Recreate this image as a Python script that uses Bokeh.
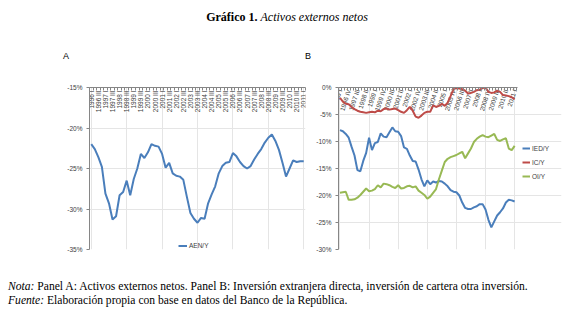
import math
from bokeh.plotting import figure
from bokeh.models import (Div, Legend, LegendItem, LinearAxis, FixedTicker,
                          PrintfTickFormatter, Range1d, ColumnDataSource,
                          CustomJSTickFormatter)
from bokeh.layouts import column, row
from bokeh.embed import file_html
from bokeh.resources import INLINE
from bokeh.core.properties import value

# ---------------- data ----------------
ROMAN = ["I", "II", "III", "IV"]
quarters = [f"{y} {r}" for y in range(1996, 2012) for r in ROMAN][:61]  # 1996 I .. 2011 I

aen_y = [-22.0, -22.6, -23.6, -24.8, -28.1, -29.3, -31.3, -30.9, -28.3, -27.9,
         -26.5, -28.3, -26.3, -25.0, -23.2, -23.7, -23.0, -22.0, -22.2, -22.3,
         -23.2, -24.9, -24.3, -25.6, -25.9, -26.0, -26.4, -28.5, -30.5, -31.2,
         -31.7, -31.1, -31.2, -29.3, -28.2, -27.2, -25.6, -24.7, -24.3, -24.2,
         -23.1, -23.5, -24.2, -24.7, -25.0, -24.7, -23.9, -23.2, -22.6, -21.8,
         -21.2, -20.8, -21.6, -22.7, -24.3, -26.0, -25.0, -24.0, -24.2, -24.1,
         -24.1]

ied_y = [-7.9, -8.1, -8.6, -9.3, -11.0, -12.6, -15.3, -15.5, -13.6, -12.1,
         -9.3, -11.6, -10.3, -10.1, -8.5, -9.1, -9.2, -8.3, -7.4, -8.1,
         -8.2, -9.0, -11.1, -11.35, -12.6, -13.6, -13.7, -15.2, -17.0, -18.3,
         -17.2, -17.9, -17.4, -17.6, -17.3, -17.4, -17.8, -18.3, -19.0, -19.3,
         -19.4, -20.0, -21.3, -22.3, -22.5, -22.5, -22.2, -22.0, -21.6, -21.6,
         -22.6, -24.5, -25.9, -24.8, -23.7, -23.1, -22.4, -21.3, -20.8, -20.9,
         -21.1]

ic_y = [-1.9, -2.6, -3.0, -3.1, -3.6, -4.0, -4.3, -4.5, -4.6, -4.7,
        -4.6, -4.5, -4.6, -4.3, -4.4, -4.0, -3.9, -4.1, -4.0, -3.9,
        -4.2, -4.5, -4.7, -4.2, -3.6, -4.3, -5.4, -5.6, -5.2, -4.7,
        -4.5, -4.5, -3.3, -3.6, -3.4, -3.0, -3.4, -2.8, -1.6, -0.3,
        -0.1, -0.2, -0.3, -0.6, -1.1, -1.0, -0.8, -0.5, -0.4, -0.1,
        0.0, -0.8, -1.0, -0.9, -0.6, -0.8, -1.4, -1.5, -1.6, -1.8,
        -2.2]

oi_y = [-19.5, -19.4, -19.3, -20.8, -20.8, -20.7, -20.4, -19.9, -19.3, -18.7,
        -19.2, -19.1, -18.8, -18.1, -18.5, -17.8, -17.9, -18.1, -18.4, -18.6,
        -18.1, -18.7, -18.6, -18.3, -18.2, -18.5, -18.3, -19.1, -19.5, -19.9,
        -20.6, -20.2, -19.5, -18.8, -17.0, -15.4, -13.8, -13.2, -12.9, -12.7,
        -12.5, -12.2, -11.9, -13.1, -12.2, -11.3, -10.1, -9.5, -9.1, -8.8,
        -9.1, -9.2, -8.9, -8.6, -9.7, -9.9, -9.6, -9.4, -11.3, -11.6,
        -10.8]

ticks_a = [-35, -30, -25, -20, -15]
ticks_b = [-30, -25, -20, -15, -10, -5, 0]
label_step_a = 2
label_step_b = 3

idx = list(range(len(quarters)))

# ---------------- styles ----------------
AXIS_COLOR = "#868686"
TEXT_COLOR = "#404040"
SANS = "Liberation Sans"
BLUE = "#4A7EBB"
RED = "#BE4B48"
GREEN = "#98B954"


def base_fig(width, height, xr, yr, mbl, mbr, mbt, mbb, yticks, xbounds):
    p = figure(width=width, height=height, x_range=xr, y_range=yr,
               output_backend="svg", toolbar_location=None,
               x_axis_location=None, y_axis_location=None,
               min_border_left=mbl, min_border_right=mbr,
               min_border_top=mbt, min_border_bottom=mbb)
    p.outline_line_color = None
    p.background_fill_color = "white"
    p.border_fill_color = "white"
    yaxis = LinearAxis(ticker=FixedTicker(ticks=yticks),
                       formatter=PrintfTickFormatter(format="%d%%"),
                       axis_line_color=AXIS_COLOR, major_tick_line_color=AXIS_COLOR,
                       major_tick_out=3, major_tick_in=0, minor_tick_line_color=None,
                       major_label_text_font_size="6.5px",
                       major_label_text_font=SANS,
                       major_label_text_color=TEXT_COLOR,
                       major_label_standoff=4)
    p.add_layout(yaxis, "left")
    n = len(quarters)
    xaxis = LinearAxis(ticker=FixedTicker(ticks=[i - 0.5 for i in range(n + 1)]),
                       formatter=CustomJSTickFormatter(code="return ''"),
                       axis_line_color=AXIS_COLOR, major_tick_line_color=AXIS_COLOR,
                       major_tick_out=0, major_tick_in=3, minor_tick_line_color=None,
                       major_label_text_font_size="1px", major_label_standoff=0,
                       bounds=xbounds)
    p.add_layout(xaxis, "above")
    return p


# ---------------- Panel A ----------------
pA = base_fig(308, 212, Range1d(-0.5, 60.5), Range1d(-35, -15),
              89, 3, 22, 26, ticks_a, (-0.5, 60.5))
labA = ColumnDataSource(dict(x=idx[::label_step_a],
                             y=[ticks_a[-1]] * len(idx[::label_step_a]),
                             text=quarters[::label_step_a]))
pA.text(x="x", y="y", text="text", source=labA, angle=math.pi / 2,
        text_align="right", text_baseline="middle", y_offset=3,
        text_font=value(SANS), text_font_size="6.5px", text_color=TEXT_COLOR)
rA = pA.line(idx, aen_y, line_color=BLUE, line_width=2)
legA = Legend(items=[LegendItem(label="AEN/Y", renderers=[rA])],
              location=(89, 0), orientation="horizontal",
              background_fill_alpha=0, border_line_alpha=0,
              label_text_font_size="6.5px", label_text_font=SANS,
              label_text_color=TEXT_COLOR, glyph_width=9, glyph_height=7,
              label_height=7, padding=0, margin=0, label_standoff=2)
pA.add_layout(legA)

# ---------------- Panel B ----------------
pB = base_fig(261, 212, Range1d(-0.5, 76.1), Range1d(-30, 0),
              30, 8, 24, 13, ticks_b, (-0.5, 61.0))
labB = ColumnDataSource(dict(x=idx[::label_step_b],
                             y=[ticks_b[-1]] * len(idx[::label_step_b]),
                             text=quarters[::label_step_b]))
pB.text(x="x", y="y", text="text", source=labB, angle=math.radians(72),
        text_align="right", text_baseline="middle", y_offset=2,
        text_font=value(SANS), text_font_size="6.5px", text_color=TEXT_COLOR)
r_ied = pB.line(idx, ied_y, line_color=BLUE, line_width=2)
r_ic = pB.line(idx, ic_y, line_color=RED, line_width=2)
r_oi = pB.line(idx, oi_y, line_color=GREEN, line_width=2)
legB = Legend(items=[LegendItem(label="IED/Y", renderers=[r_ied]),
                     LegendItem(label="IC/Y", renderers=[r_ic]),
                     LegendItem(label="OI/Y", renderers=[r_oi])],
              location=(184, 69), orientation="vertical",
              background_fill_alpha=0, border_line_alpha=0,
              label_text_font_size="6.5px", label_text_font=SANS,
              label_text_color=TEXT_COLOR, glyph_width=8, glyph_height=8,
              label_height=8, spacing=6, padding=0, margin=0, label_standoff=2)
pB.add_layout(legB)

# ---------------- texts ----------------
title_html = (
    '<div style="position:relative;width:569px;height:63px;">'
    '<div style="position:absolute;left:0;top:8px;width:574px;text-align:center;'
    "font-family:'Liberation Serif';font-size:12px;line-height:18px;color:#000;white-space:nowrap;\">"
    '<b>Gráfico 1.</b> <i>Activos externos netos</i></div>'
    '<span style="position:absolute;left:63px;top:51px;font-family:\'Liberation Sans\';'
    'font-size:9px;line-height:10px;color:#000;">A</span>'
    '<span style="position:absolute;left:305px;top:51px;font-family:\'Liberation Sans\';'
    'font-size:9px;line-height:10px;color:#000;">B</span>'
    '</div>'
)
title_div = Div(text=title_html, width=569, height=63, margin=(0, 0, 0, 0))

notes_html = (
    '<div style="padding-top:5px;padding-left:8px;font-family:\'Liberation Serif\';'
    'font-size:11.6px;line-height:14px;color:#000;white-space:nowrap;">'
    '<i>Nota:</i> Panel A: Activos externos netos. Panel B: Inversión extranjera directa, '
    'inversión de cartera otra inversión.<br>'
    '<i>Fuente:</i> Elaboración propia con  base en datos del Banco de la República.'
    '</div>'
)
notes_div = Div(text=notes_html, width=569, height=39, margin=(0, 0, 0, 0))

layout = column(title_div, row(pA, pB, spacing=0), notes_div, spacing=0)

open("out.html", "w").write(file_html(layout, INLINE))
